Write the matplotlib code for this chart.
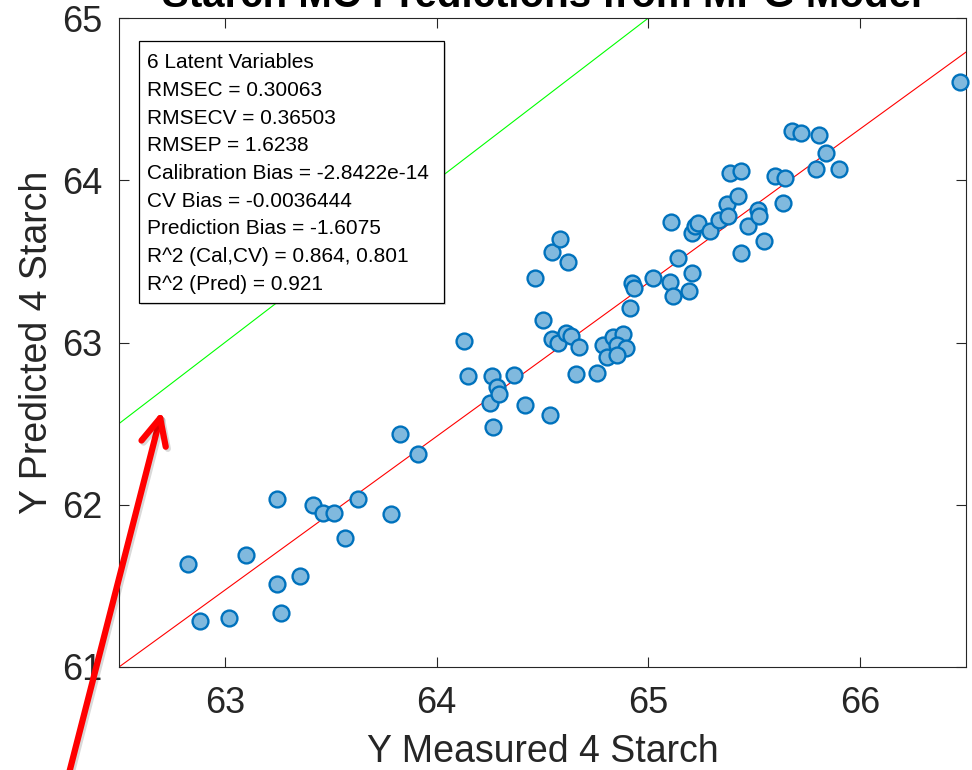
import matplotlib
matplotlib.use("Agg")
import matplotlib.pyplot as plt
import matplotlib.patheffects as pe
from matplotlib.patches import FancyArrowPatch, Rectangle, ArrowStyle
import numpy as np

plt.rcParams['font.family'] = ['Liberation Sans', 'DejaVu Sans']

# ---------------- data ----------------
y_measured = [62.826, 62.883, 63.019, 63.098, 63.245, 63.246, 63.264, 63.356, 63.415, 63.465,
              63.514, 63.566, 63.630, 63.783, 63.825, 63.912, 64.131, 64.148, 64.260, 64.252,
              64.266, 64.287, 64.293, 64.365, 64.417, 64.465, 64.504, 64.537, 64.543, 64.543,
              64.575, 64.583, 64.619, 64.610, 64.633, 64.671, 64.657, 64.756, 64.784, 64.834,
              64.882, 64.850, 64.894, 64.806, 64.852, 64.913, 64.921, 64.934, 65.020, 65.105,
              65.104, 65.114, 65.142, 65.190, 65.204, 65.208, 65.218, 65.233, 65.292, 65.334,
              65.370, 65.375, 65.384, 65.436, 65.425, 65.439, 65.472, 65.518, 65.524, 65.545,
              65.598, 65.645, 65.634, 65.678, 65.719, 65.793, 65.807, 65.839, 65.902, 66.472]
y_predicted = [61.633, 61.282, 61.300, 61.688, 62.034, 61.510, 61.333, 61.559, 62.000, 61.951,
               61.947, 61.797, 62.035, 61.945, 62.439, 62.313, 63.009, 62.795, 62.794, 62.625,
               62.477, 62.724, 62.684, 62.798, 62.613, 63.399, 63.141, 62.551, 63.556, 63.023,
               62.995, 63.638, 63.496, 63.060, 63.038, 62.972, 62.804, 62.812, 62.983, 63.032,
               63.051, 62.986, 62.966, 62.912, 62.925, 63.211, 63.365, 63.338, 63.396, 63.741,
               63.373, 63.288, 63.518, 63.319, 63.428, 63.673, 63.715, 63.735, 63.689, 63.757,
               63.852, 63.782, 64.043, 64.057, 63.903, 63.552, 63.716, 63.818, 63.778, 63.626,
               64.026, 64.014, 63.860, 64.302, 64.291, 64.071, 64.279, 64.168, 64.071, 64.605]

fit_slope = 0.9475
fit_intercept = 1.7813
x_limits = [62.5, 66.5]
y_limits = [61, 65]
x_ticks = [63, 64, 65, 66]
y_ticks = [61, 62, 63, 64, 65]

title_text = "Starch MC Predictions from MPG Model"
x_label = "Y Measured 4 Starch"
y_label = "Y Predicted 4 Starch"
stats_lines = ["6 Latent Variables",
               "RMSEC = 0.30063",
               "RMSECV = 0.36503",
               "RMSEP = 1.6238",
               "Calibration Bias = -2.8422e-14",
               "CV Bias = -0.0036444",
               "Prediction Bias = -1.6075",
               "R^2 (Cal,CV) = 0.864, 0.801",
               "R^2 (Pred) = 0.921"]

# ---------------- figure ----------------
W, H = 972, 770
fig = plt.figure(figsize=(W / 100, H / 100), dpi=100)
ax = fig.add_axes([119 / W, 1 - 667 / H, (966 - 119) / W, (667 - 18) / H])

axis_col = '#262626'
xs = np.array(x_limits)
ax.plot(xs, xs, color='#00FF00', lw=0.8, zorder=2)
ax.plot(xs, fit_slope * xs + fit_intercept, color='#FF0000', lw=0.8, zorder=2)

ax.scatter(y_measured, y_predicted, s=130, facecolor='#80B9DE', edgecolor='#0072BD',
           linewidths=1.7, zorder=3, clip_on=False)

ax.set_xlim(x_limits)
ax.set_ylim(y_limits)
ax.set_xticks(x_ticks)
ax.set_yticks(y_ticks)
ax.tick_params(direction='in', length=7, width=0.8, colors=axis_col, labelsize=26,
               top=True, right=True, pad=12)
ax.tick_params(axis='x', pad=14)
for sp in ax.spines.values():
    sp.set_color(axis_col)
    sp.set_linewidth(0.8)

ax.set_xlabel(x_label, fontsize=27, color=axis_col, labelpad=9)
ax.set_ylabel(y_label, fontsize=27, color=axis_col, labelpad=5)

ax.text(0.5, 1 + 11 / 649, title_text, transform=ax.transAxes, ha='center', va='baseline',
        fontsize=29, fontweight='bold', color='black')

# stats box
axw, axh = 847, 649
box = Rectangle(((139 - 119) / axw, (667 - 303) / axh), (444 - 139) / axw, (303 - 41) / axh,
                transform=ax.transAxes, facecolor='white', edgecolor='black', lw=0.9, zorder=5,
                path_effects=[pe.SimplePatchShadow(offset=(1.5, -1.5), alpha=0.2), pe.Normal()])
ax.add_patch(box)
for i, line in enumerate(stats_lines):
    ypx = 68 + i * 27.75
    ax.text((147 - 119) / axw, (667 - ypx) / axh, line, transform=ax.transAxes,
            ha='left', va='baseline', fontsize=15, color='black', zorder=6)

# red annotation arrow
arrow = FancyArrowPatch((66 / W, 1 - 785 / H), (162 / W, 1 - 411 / H),
                        transform=fig.transFigure,
                        arrowstyle=ArrowStyle('->', head_length=19, head_width=9),
                        mutation_scale=1, color='#FF0000', lw=4.5, capstyle='round',
                        joinstyle='round', shrinkA=0, shrinkB=0, zorder=10, clip_on=False,
                        path_effects=[pe.SimpleLineShadow(offset=(1.5, -1.5), alpha=0.15), pe.Normal()])
fig.add_artist(arrow)

fig.savefig('out.png', dpi=100)
